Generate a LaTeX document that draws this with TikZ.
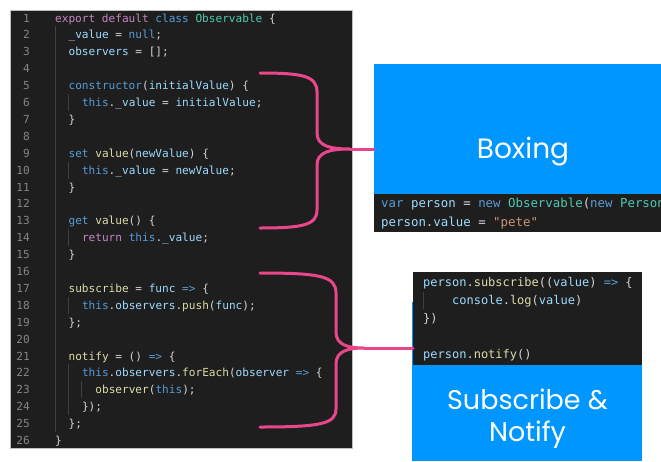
\documentclass[tikz,border=0pt]{standalone}
\usepackage{fontspec}
\setmonofont{DejaVu Sans Mono}
\newfontfamily\headfont{Poppins}

% editor palette
\definecolor{editorbg}{HTML}{1E1E1E}
\definecolor{lnum}{HTML}{858585}
\definecolor{cPurple}{HTML}{C586C0}
\definecolor{cBlue}{HTML}{569CD6}
\definecolor{cTeal}{HTML}{4EC9B0}
\definecolor{cLight}{HTML}{9CDCFE}
\definecolor{cYellow}{HTML}{DCDCAA}
\definecolor{cText}{HTML}{D4D4D4}
\definecolor{cString}{HTML}{CE9178}
\definecolor{guide}{HTML}{404040}
\definecolor{accent}{HTML}{0096FF}
\definecolor{bracecol}{HTML}{E9468C}

% token colours
\newcommand\kwP[1]{\textcolor{cPurple}{#1}}
\newcommand\kwB[1]{\textcolor{cBlue}{#1}}
\newcommand\kwT[1]{\textcolor{cTeal}{#1}}
\newcommand\kwL[1]{\textcolor{cLight}{#1}}
\newcommand\kwY[1]{\textcolor{cYellow}{#1}}
\newcommand\kwS[1]{\textcolor{cString}{#1}}

\tikzset{
  panel/.style={fill=editorbg, draw=none, inner sep=0pt, anchor=north west},
  bluebox/.style={fill=accent, draw=none, inner sep=0pt, anchor=north west},
  codetext/.style={anchor=base west, inner sep=0pt, text=cText,
    font=\ttfamily\fontsize{11.1}{13}\selectfont},
  lnumtext/.style={anchor=base east, inner sep=0pt, text=lnum,
    font=\ttfamily\fontsize{11.1}{13}\selectfont},
  snippet/.style={anchor=base west, inner sep=0pt, text=cText,
    font=\ttfamily\fontsize{12.4}{14}\selectfont},
  snippetsm/.style={anchor=base west, inner sep=0pt, text=cText,
    font=\ttfamily\fontsize{12}{14}\selectfont},
  heading/.style={anchor=base, inner sep=0pt, text=white,
    font=\headfont\fontsize{28}{32}\selectfont},
  headingsm/.style={heading, font=\headfont\fontsize{27}{32}\selectfont},
  guideline/.style={draw=guide, line width=0.8pt},
  bracestyle/.style={draw=bracecol, line width=3pt, line cap=round, line join=round},
}

% one source line: line number, indent (chars), tokens
\newcommand\codeln[3]{\node[codetext] (code#1) at ({55+#2*6.7},{22+(#1-1)*16.9}) {#3};}
% indentation guide from the top of one line to the bottom of another
\newcommand\indentguide[3]{\draw[guideline] (#1,{22+(#2-1)*16.9-12.5}) -- (#1,{22+(#3-1)*16.9+4.4});}

\begin{document}
\begin{tikzpicture}[x=1pt, y=-1pt]
\fill[white] (0,0) rectangle (661,461);
\useasboundingbox (0,0) rectangle (661,461);

% ---- editor panel with the Observable class ----
\node[panel, draw=black!25, line width=0.5pt, minimum width=342pt, minimum height=438pt] (editor) at (10,10) {};

\foreach \n in {1,...,26}
  \node[lnumtext] (num\n) at (30,{22+(\n-1)*16.9}) {\n};

\indentguide{55}{2}{25}
\indentguide{68.4}{6}{6}
\indentguide{68.4}{10}{10}
\indentguide{68.4}{14}{14}
\indentguide{68.4}{18}{18}
\indentguide{68.4}{22}{24}
\indentguide{81.8}{23}{23}

\codeln{1}{0}{\kwP{export} \kwP{default} \kwB{class} \kwT{Observable} \{}
\codeln{2}{2}{\kwL{\_value} = \kwB{null};}
\codeln{3}{2}{\kwL{observers} = [];}
\codeln{5}{2}{\kwB{constructor}(\kwL{initialValue}) \{}
\codeln{6}{4}{\kwB{this}.\kwL{\_value} = \kwL{initialValue};}
\codeln{7}{2}{\}}
\codeln{9}{2}{\kwB{set} \kwY{value}(\kwL{newValue}) \{}
\codeln{10}{4}{\kwB{this}.\kwL{\_value} = \kwL{newValue};}
\codeln{11}{2}{\}}
\codeln{13}{2}{\kwB{get} \kwY{value}() \{}
\codeln{14}{4}{\kwP{return} \kwB{this}.\kwL{\_value};}
\codeln{15}{2}{\}}
\codeln{17}{2}{\kwY{subscribe} = \kwL{func} \kwB{=>} \{}
\codeln{18}{4}{\kwB{this}.\kwL{observers}.\kwY{push}(\kwL{func});}
\codeln{19}{2}{\};}
\codeln{21}{2}{\kwY{notify} = () \kwB{=>} \{}
\codeln{22}{4}{\kwB{this}.\kwL{observers}.\kwY{forEach}(\kwL{observer} \kwB{=>} \{}
\codeln{23}{6}{\kwY{observer}(\kwB{this});}
\codeln{24}{4}{\});}
\codeln{25}{2}{\};}
\codeln{26}{0}{\}}

% ---- Boxing card ----
\node[bluebox, minimum width=287pt, minimum height=130pt] (boxing) at (374,64) {};
\node[heading] (boxingtitle) at (523,158) {Boxing};
\node[panel, minimum width=287pt, minimum height=38pt] (boxcode) at (374,194) {};
\begin{scope}
  \clip (374,194) rectangle (661,232);
  \node[snippet] (boxline1) at (381,207) {\kwB{var} \kwL{person} = \kwB{new} \kwT{Observable}(\kwB{new} \kwT{Person}};
  \node[snippet] (boxline2) at (381,226) {\kwL{person}.\kwL{value} = \kwS{"pete"}};
\end{scope}

% ---- Subscribe & Notify card ----
\node[bluebox, minimum width=230pt, minimum height=159pt] (notify) at (412,302) {};
\node[panel, minimum width=229pt, minimum height=93pt] (subcode) at (413,272) {};
\draw[guideline] (423,292) -- (423,309);
\node[snippetsm] (subline1) at (423,286) {\kwL{person}.\kwY{subscribe}((\kwL{value}) \kwB{=>} \{};
\node[snippetsm] (subline2) at (452,304) {\kwL{console}.\kwY{log}(\kwL{value})};
\node[snippetsm] (subline3) at (423,322) {\})};
\node[snippetsm] (subline5) at (423,358) {\kwL{person}.\kwY{notify}()};
\node[headingsm] (subtitle1) at (527.5,409) {Subscribe \&};
\node[headingsm] (subtitle2) at (527.5,441) {Notify};

% ---- braces from the code to the cards ----
\coordinate (b1top) at (260,73);
\coordinate (b1bot) at (260,228);
\coordinate (b1tip) at (350,149);
\draw[bracestyle] (b1top) .. controls (303,73) and (317,76) .. (317,92)
  -- (317,133) .. controls (317,146) and (330,149) .. (b1tip)
  .. controls (330,149) and (317,152) .. (317,165)
  -- (317,210) .. controls (317,225) and (303,228) .. (b1bot);
\draw[bracestyle] (b1tip) -- (b1tip -| boxing.west);

\coordinate (b2top) at (260,273);
\coordinate (b2bot) at (260,427);
\coordinate (b2tip) at (364,348);
\draw[bracestyle] (b2top) .. controls (320,273) and (336,276) .. (336,293)
  -- (336,332) .. controls (336,345) and (348,348) .. (b2tip)
  .. controls (348,348) and (336,351) .. (336,364)
  -- (336,409) .. controls (336,424) and (320,427) .. (b2bot);
\draw[bracestyle] (b2tip) -- (b2tip -| subcode.west);
\end{tikzpicture}
\end{document}
